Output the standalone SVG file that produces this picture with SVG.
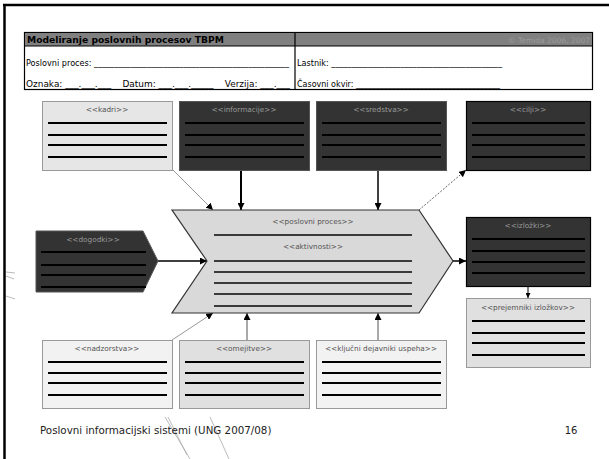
<svg xmlns="http://www.w3.org/2000/svg" width="609" height="459" viewBox="0 0 609 459">
<defs>
<style>
.t{font-family:"DejaVu Sans","Verdana",sans-serif;}
.lbl{font-family:"DejaVu Sans",sans-serif;font-size:7.3px;text-anchor:middle;}
.dk{fill:#333333;stroke:#555;stroke-width:1;}
.lt{fill:#e6e6e6;stroke:#999;stroke-width:1;}
.vl{fill:#f2f2f2;stroke:#999;stroke-width:1;}
.md{fill:#e0e0e0;stroke:#999;stroke-width:1;}
.ln{stroke:#000;stroke-width:2;}
.pl{stroke:#3a3a3a;stroke-width:2;}
.hd{font-family:"DejaVu Sans",sans-serif;font-size:8px;fill:#000;}
</style>
<marker id="ah" viewBox="0 0 10 10" refX="10" refY="5" markerWidth="5" markerHeight="5" orient="auto" markerUnits="userSpaceOnUse"><path d="M0,0L10,5L0,10z" fill="#000"/></marker>
<marker id="ahs" viewBox="0 0 10 10" refX="10" refY="5" markerWidth="7" markerHeight="7" orient="auto" markerUnits="userSpaceOnUse"><path d="M0,0L10,5L0,10z" fill="#000"/></marker>
</defs>
<rect width="609" height="459" fill="#fff"/>
<!-- frame -->
<line x1="3" y1="5" x2="609" y2="5" stroke="#000" stroke-width="2.5"/>
<line x1="4.5" y1="4" x2="4.5" y2="459" stroke="#000" stroke-width="2.5"/>
<g stroke="#aaa" stroke-width="0.8">
<line x1="6" y1="272" x2="15" y2="273"/>
<line x1="6" y1="276" x2="14" y2="279"/>
<line x1="6" y1="296" x2="15" y2="299"/>
<line x1="165" y1="417" x2="190" y2="459"/>
<line x1="168" y1="417" x2="187" y2="455"/>
<line x1="210" y1="417" x2="229" y2="459"/>
</g>
<!-- header -->
<g id="header">
<rect x="24.5" y="32.5" width="568" height="57" fill="#fff" stroke="#000" stroke-width="1.2"/>
<rect x="25" y="33" width="567" height="13" fill="#808080"/>
<line x1="24.5" y1="46" x2="592.5" y2="46" stroke="#000" stroke-width="1"/>
<line x1="295" y1="32.5" x2="295" y2="89.5" stroke="#000" stroke-width="1.2"/>
<text class="t" x="27" y="43" font-size="9.2" font-weight="bold">Modeliranje poslovnih procesov TBPM</text>
<text class="t" x="590" y="43" font-size="7.5" fill="#9a9a9a" text-anchor="end">© Temida 2006, 2007</text>
<text class="hd" x="26" y="66" textLength="263" lengthAdjust="spacingAndGlyphs">Poslovni proces: ________________________________________________</text>
<text class="hd" x="26" y="86.5" textLength="264" lengthAdjust="spacingAndGlyphs" xml:space="preserve" style="white-space:pre">Oznaka: ___.___.___    Datum: ___.___._____    Verzija: ___.___</text>
<text class="hd" x="297" y="66" textLength="205" lengthAdjust="spacingAndGlyphs">Lastnik: __________________________________________</text>
<text class="hd" x="297" y="86.5" textLength="203" lengthAdjust="spacingAndGlyphs">Časovni okvir: ____________________________________</text>
</g>
<!-- connectors -->
<g id="connectors" fill="none">
<line x1="173" y1="170" x2="213" y2="210" stroke="#999" stroke-width="1" marker-end="url(#ahs)"/>
<line x1="241" y1="170" x2="241" y2="210" stroke="#000" stroke-width="2" marker-end="url(#ahs)"/>
<line x1="378" y1="170" x2="378" y2="210" stroke="#000" stroke-width="1.5" marker-end="url(#ahs)"/>
<line x1="419" y1="210" x2="466" y2="170" stroke="#666" stroke-width="1" stroke-dasharray="2,1.5" marker-end="url(#ahs)"/>
<line x1="158" y1="261" x2="207" y2="261" stroke="#000" stroke-width="1.5" marker-end="url(#ahs)"/>
<line x1="453" y1="261" x2="466" y2="261" stroke="#000" stroke-width="1.5" marker-end="url(#ahs)"/>
<line x1="528" y1="286" x2="528" y2="298" stroke="#000" stroke-width="1" marker-end="url(#ah)"/>
<line x1="172" y1="340" x2="213" y2="313" stroke="#999" stroke-width="1" marker-end="url(#ahs)"/>
<line x1="247" y1="340" x2="247" y2="313" stroke="#555" stroke-width="1" marker-end="url(#ahs)"/>
<line x1="378" y1="340" x2="378" y2="313" stroke="#555" stroke-width="1" marker-end="url(#ahs)"/>
</g>
<!-- top boxes -->
<g id="kadri">
<rect class="lt" x="42.5" y="101.5" width="130" height="69"/>
<text class="lbl" x="107" y="112" fill="#555">&lt;&lt;kadri&gt;&gt;</text>
<path class="ln" d="M48 123H167M48 135H167M48 145H167M48 157H167"/>
</g>
<g id="informacije">
<rect class="dk" x="179.5" y="101.5" width="130" height="69"/>
<text class="lbl" x="244" y="112" fill="#999">&lt;&lt;informacije&gt;&gt;</text>
<path class="ln" d="M185 123H304M185 135H304M185 145H304M185 157H304"/>
</g>
<g id="sredstva">
<rect class="dk" x="316.5" y="101.5" width="130" height="69"/>
<text class="lbl" x="381" y="112" fill="#999">&lt;&lt;sredstva&gt;&gt;</text>
<path class="ln" d="M322 123H441M322 135H441M322 145H441M322 157H441"/>
</g>
<g id="cilji">
<rect x="466.5" y="101.5" width="124" height="69" fill="#333" stroke="#000" stroke-width="1.2"/>
<text class="lbl" x="528" y="112" fill="#999">&lt;&lt;cilji&gt;&gt;</text>
<path class="ln" d="M472 123H585M472 135H585M472 145H585M472 157H585"/>
</g>
<!-- process -->
<g id="poslovni-proces">
<polygon points="172,210 419,210 453,261 419,313 172,313 207,261" fill="#d9d9d9" stroke="#333" stroke-width="1.2"/>
<text class="lbl" x="313" y="224" fill="#555">&lt;&lt;poslovni proces&gt;&gt;</text>
<line class="pl" x1="214" y1="235" x2="412" y2="235"/>
<text class="lbl" x="313" y="249" fill="#555">&lt;&lt;aktivnosti&gt;&gt;</text>
<path class="pl" d="M214 261H412M214 272H412M214 283H412M214 294H412M214 306H412"/>
</g>
<g id="dogodki">
<polygon points="36,231 143,231 158,261 143,292 36,292" fill="#333" stroke="#555" stroke-width="1"/>
<text class="lbl" x="93" y="242" fill="#999">&lt;&lt;dogodki&gt;&gt;</text>
<path class="ln" d="M41 252H146M41 265H146M41 275H146M41 287H146"/>
</g>
<g id="izlozki">
<rect x="466.5" y="217.5" width="124" height="69" fill="#333" stroke="#000" stroke-width="1.2"/>
<text class="lbl" x="528" y="228" fill="#999">&lt;&lt;izložki&gt;&gt;</text>
<path class="ln" d="M472 239H585M472 251H585M472 262H585M472 273H585"/>
</g>
<g id="prejemniki">
<rect class="md" x="466.5" y="298.5" width="124" height="69"/>
<text class="lbl" x="528" y="310" fill="#555">&lt;&lt;prejemniki izložkov&gt;&gt;</text>
<path class="ln" d="M472 321H585M472 333H585M472 343H585M472 355H585"/>
</g>
<!-- bottom boxes -->
<g id="nadzorstva">
<rect class="vl" x="42.5" y="340.5" width="130" height="68"/>
<text class="lbl" x="107" y="351" fill="#555">&lt;&lt;nadzorstva&gt;&gt;</text>
<path class="ln" d="M48 362H167M48 373H167M48 383H167M48 395H167"/>
</g>
<g id="omejitve">
<rect class="md" x="179.5" y="340.5" width="130" height="68"/>
<text class="lbl" x="244" y="351" fill="#555">&lt;&lt;omejitve&gt;&gt;</text>
<path class="ln" d="M185 362H304M185 373H304M185 383H304M185 395H304"/>
</g>
<g id="kljucni">
<rect class="vl" x="316.5" y="340.5" width="130" height="68"/>
<text class="lbl" x="381" y="351" fill="#555">&lt;&lt;ključni dejavniki uspeha&gt;&gt;</text>
<path class="ln" d="M322 362H441M322 373H441M322 383H441M322 395H441"/>
</g>
<!-- footer -->
<text class="t" x="40" y="434" font-size="10.3" fill="#222">Poslovni informacijski sistemi (UNG 2007/08)</text>
<text class="t" x="571" y="434" font-size="10" fill="#222" text-anchor="middle">16</text>
</svg>
